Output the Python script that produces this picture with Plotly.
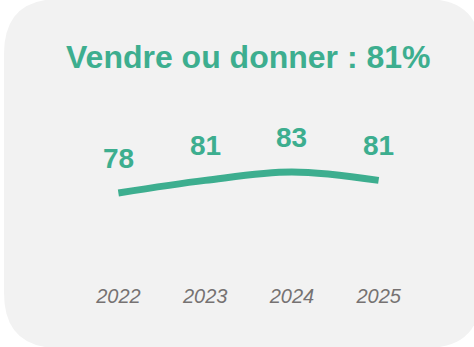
import plotly.graph_objects as go

# Data
years = ["2022", "2023", "2024", "2025"]
values = [78, 81, 83, 81]
title_text = "Vendre ou donner : 81%"

GREEN = "#3dae8f"
GREY_TXT = "#767272"
CARD = "#f2f2f2"

W, H = 474, 347
L, R, T, B = 75, 52, 100, 65
pw, ph = W - L - R, H - T - B


def to_paper(px, py):
    return (px - L) / pw, (H - B - py) / ph


def rounded_rect(x0, y0, x1, y1, r):
    # rounded card outline expressed in paper coordinates
    def P(x, y):
        a, b = to_paper(x, y)
        return f"{a:.5f},{b:.5f}"
    return (
        f"M {P(x0 + r, y0)} L {P(x1 - r, y0)} "
        f"Q {P(x1, y0)} {P(x1, y0 + r)} "
        f"L {P(x1, y1 - r)} Q {P(x1, y1)} {P(x1 - r, y1)} "
        f"L {P(x0 + r, y1)} Q {P(x0, y1)} {P(x0, y1 - r)} "
        f"L {P(x0, y0 + r)} Q {P(x0, y0)} {P(x0 + r, y0)} Z"
    )


# y range keeps the line in the same vertical band regardless of margins
px_per_unit = 4.2
y_lo = 78 - (H - B - 193) / px_per_unit
y_hi = 78 + (193 - T) / px_per_unit

xs = list(range(len(years)))

fig = go.Figure()
fig.add_trace(go.Scatter(
    x=xs, y=values, mode="lines",
    line=dict(color=GREEN, width=7, shape="spline", smoothing=1.0),
    hoverinfo="skip", showlegend=False,
))

for x, v in zip(xs, values):
    fig.add_annotation(
        x=x, y=v, text=f"<b>{v}</b>", showarrow=False,
        yshift=35, yanchor="middle",
        font=dict(family="Liberation Sans, Arial", size=28, color=GREEN),
    )

fig.add_shape(
    type="path", xref="paper", yref="paper", layer="below",
    path=rounded_rect(4, -1, 481, 348, 55),
    fillcolor=CARD, line=dict(width=0),
)

fig.add_annotation(
    xref="paper", yref="paper", x=to_paper(248, 0)[0], y=to_paper(0, 57)[1],
    xanchor="center", yanchor="middle",
    text=f"<b>{title_text}</b>", showarrow=False,
    font=dict(family="Liberation Sans, Arial", size=32, color=GREEN),
)

fig.update_layout(
    width=W, height=H,
    margin=dict(l=L, r=R, t=T, b=B),
    paper_bgcolor="white", plot_bgcolor="rgba(0,0,0,0)",
    xaxis=dict(
        range=[-0.5, 3.5], tickmode="array", tickvals=xs,
        ticktext=[f"<i>{y}</i>" for y in years],
        showgrid=False, zeroline=False, showline=False,
        tickfont=dict(family="Liberation Sans, Arial", size=20, color=GREY_TXT),
        fixedrange=True,
    ),
    yaxis=dict(range=[y_lo, y_hi], visible=False, showgrid=False, fixedrange=True),
)

fig.write_html("out.html")
